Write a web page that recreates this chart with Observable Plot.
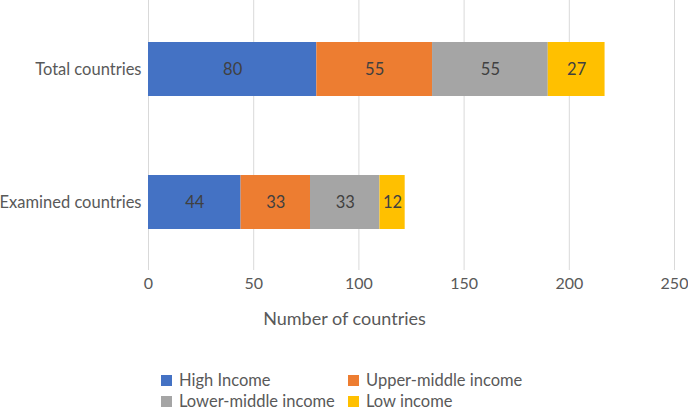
<!DOCTYPE html>
<html><head><meta charset="utf-8">
<script src="https://cdn.jsdelivr.net/npm/d3@7"></script>
<script src="https://cdn.jsdelivr.net/npm/@observablehq/plot@0.6"></script>
<style>
body{margin:0;background:#fff;font-family:Lato,"Open Sans",sans-serif;}
#wrap{position:relative;width:688px;height:412px;}
#legend{position:absolute;left:161px;top:372px;display:grid;grid-template-columns:187px 210px;row-gap:5px;font-size:16.5px;color:#595959;}
.item{display:flex;align-items:center;height:16px;line-height:16px;}
.sw{width:11px;height:11px;margin-right:7px;flex:none;}
</style></head>
<body><div id="wrap"><div id="chart"></div><div id="legend"></div></div>
<script>
const categories = ["Total countries", "Examined countries"];
const seriesNames = ["High Income", "Upper-middle income", "Lower-middle income", "Low income"];
const highIncome = [80, 44];
const upperMiddle = [55, 33];
const lowerMiddle = [55, 33];
const lowIncome = [27, 12];
const xTicks = [0, 50, 100, 150, 200, 250];
const colors = ["#4472C4", "#ED7D31", "#A5A5A5", "#FFC000"];

const seriesValues = [highIncome, upperMiddle, lowerMiddle, lowIncome];
const data = [];
categories.forEach((c, i) => seriesNames.forEach((s, j) => data.push({cat: c, series: s, value: seriesValues[j][i]})));

const chart = Plot.plot({
  width: 688, height: 340,
  marginLeft: 148, marginRight: 14, marginTop: 0, marginBottom: 70,
  style: {fontFamily: "Lato, 'Open Sans', sans-serif", fontSize: "16px", color: "#595959"},
  x: {domain: [0, 250], ticks: xTicks, label: null},
  y: {domain: categories, paddingInner: 0.597, paddingOuter: 0.306, label: null},
  color: {domain: seriesNames, range: colors},
  marks: [
    Plot.ruleX(xTicks, {stroke: "#d9d9d9", strokeWidth: 1}),
    Plot.barX(data, Plot.stackX({x: "value", y: "cat", fill: "series", z: "series", order: seriesNames})),
    Plot.text(data, Plot.stackX({x: "value", y: "cat", z: "series", order: seriesNames, text: d => String(d.value), fill: "#404040", fontSize: 16.5})),
    Plot.axisX({ticks: xTicks, tickSize: 0, tickPadding: 7, fill: "#595959", fontSize: 16, label: null}),
    Plot.axisY({tickSize: 0, tickPadding: 7, fill: "#595959", fontSize: 16.5, label: null}),
    Plot.text(["Number of countries"], {frameAnchor: "bottom", dx: 344 - 411, dy: 54, fill: "#595959", fontSize: 18})
  ]
});
document.getElementById("chart").appendChild(chart);

const lg = document.getElementById("legend");
seriesNames.forEach((s, j) => {
  const it = document.createElement("div"); it.className = "item";
  const sw = document.createElement("span"); sw.className = "sw"; sw.style.background = colors[j];
  const t = document.createElement("span"); t.textContent = s;
  it.appendChild(sw); it.appendChild(t); lg.appendChild(it);
});
</script></body></html>
